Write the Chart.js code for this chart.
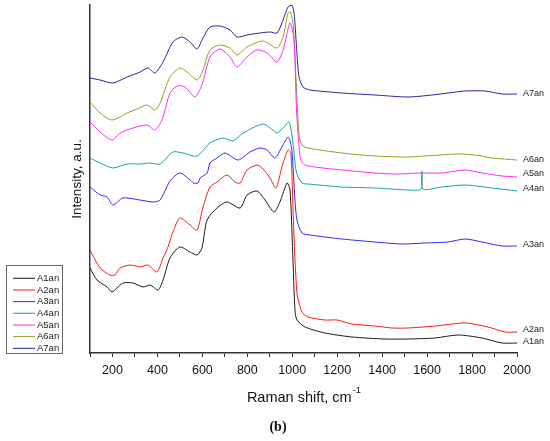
<!DOCTYPE html>
<html>
<head>
<meta charset="utf-8">
<script src="https://cdn.jsdelivr.net/npm/chart.js@4"></script>
<style>
  html,body{margin:0;padding:0;background:#fff;}
  #wrap{position:relative;width:550px;height:441px;}
  canvas{position:absolute;left:0;top:0;}
</style>
</head>
<body>
<div id="wrap"><canvas id="c" width="550" height="441"></canvas></div>
<script>
// ---- data (Raman shift in cm-1, intensity in arbitrary units) ----
const seriesNames = ["A1an","A2an","A3an","A4an","A5an","A6an","A7an"];
const xTicks = [200,400,600,800,1000,1200,1400,1600,1800,2000];

const A1_x = [100,131,176,198,220,247,291,336,367,403,425,456,500,545,576,598,621,665,710,768,799,843,879,919,945,977,990,1002,1012,1021,1057,1146,1266,1413,1515,1635,1738,1844,1933,2000];
const A1_y = [85,73,66,61,65,70,70,66,68,63,73,95,106,101,98,105,133,145,151,145,158,162,153,141,151,170,163,100,43,33,26,20,16,14,14,15,18,15,10,10];

const A2_x = [100,145,189,211,234,278,323,358,398,425,447,469,500,545,576,603,634,665,710,745,768,799,843,870,901,928,954,981,994,1005,1021,1043,1070,1146,1199,1266,1368,1444,1515,1635,1769,1871,1947,2000];
const A2_y = [103,85,78,78,85,88,86,88,81,95,106,121,135,128,123,146,166,171,178,171,170,183,188,184,175,165,186,203,200,133,60,41,36,33,33,29,27,25,25,27,30,26,21,21];

const A3_x = [100,145,176,202,247,323,380,412,456,500,545,560,581,590,621,634,665,701,759,812,856,888,923,954,982,998,1012,1021,1043,1079,1221,1368,1488,1591,1693,1769,1844,1933,2000];
const A3_y = [166,158,156,148,155,153,151,153,172,180,173,170,170,175,180,190,195,200,193,201,205,203,195,206,216,203,153,133,120,118,114,111,109,110,111,114,111,107,107];

const A4_x = [100,145,202,265,323,367,412,469,514,576,634,692,736,781,870,914,932,959,986,1003,1019,1043,1070,1221,1368,1515,1573,1577,1581,1666,1769,1889,2000];
const A4_y = [195,190,185,189,189,190,189,201,200,197,210,215,212,220,229,223,220,225,231,210,180,170,169,166,165,163,164,182,164,166,168,165,162];

const A5_x = [100,145,198,234,291,354,389,420,456,487,523,567,598,634,678,723,754,799,843,888,932,959,990,1008,1019,1034,1045,1070,1221,1368,1457,1577,1666,1769,1844,1933,2000];
const A5_y = [231,221,213,220,225,228,223,233,260,267,266,256,268,296,304,296,286,296,303,300,291,303,330,313,243,198,190,187,183,180,179,180,180,183,180,177,176];

const A6_x = [100,145,198,265,309,354,389,412,456,500,532,576,598,634,678,723,754,799,870,932,959,981,992,1005,1019,1030,1043,1070,1221,1368,1515,1591,1738,1813,1889,2000];
const A6_y = [251,240,233,240,244,248,243,250,276,285,281,273,280,303,308,305,298,306,312,305,316,340,341,326,263,218,208,205,200,197,196,197,199,198,195,193];

const A7_x = [100,145,202,265,323,358,389,425,469,509,545,576,603,634,678,723,754,799,856,901,932,959,981,998,1008,1019,1030,1048,1079,1221,1368,1515,1622,1693,1769,1858,1933,2000];
const A7_y = [275,273,270,276,281,285,280,291,311,316,311,304,315,326,327,323,316,318,320,321,320,333,346,348,340,306,276,266,263,260,258,256,258,260,262,262,259,259];

// ---- styling ----
const colors = ["#1a1a1a","#ff1a1a","#2a2aff","#17a0a0","#ff2aff","#9a9a1e","#25259a"];
const allX = [A1_x,A2_x,A3_x,A4_x,A5_x,A6_x,A7_x];
const allY = [A1_y,A2_y,A3_y,A4_y,A5_y,A6_y,A7_y];
const labelShift = [-1,-2,-1,-2,-3,0,0];
const FONT = "'Liberation Sans', Arial, sans-serif";

function pts(xs, ys){ return xs.map((x,i)=>({x:x, y:ys[i]})); }

const datasets = seriesNames.map((n,i)=>({
  label:n,
  data:pts(allX[i], allY[i]),
  borderColor:colors[i],
  backgroundColor:colors[i],
  borderWidth:1,
  pointRadius:0,
  fill:false,
  tension:0.25
}));

const decor = {
  id:'decor',
  afterDraw(chart){
    const ctx = chart.ctx;
    const ca = chart.chartArea;
    ctx.save();
    // end labels
    ctx.font = "9px " + FONT;
    ctx.fillStyle = "#222";
    ctx.textBaseline = "middle";
    ctx.textAlign = "left";
    chart.data.datasets.forEach((ds,i)=>{
      const meta = chart.getDatasetMeta(i);
      const p = meta.data[meta.data.length-1];
      ctx.fillText(ds.label, ca.right + 6, p.y + labelShift[i]);
    });
    // y title
    ctx.save();
    ctx.translate(77, (ca.top + ca.bottom)/2);
    ctx.rotate(-Math.PI/2);
    ctx.font = "13.5px " + FONT;
    ctx.fillStyle = "#111";
    ctx.textAlign = "center";
    ctx.textBaseline = "middle";
    ctx.fillText("Intensity, a.u.", 0, 0);
    ctx.restore();
    // x title with superscript
    ctx.font = "14.5px " + FONT;
    const main = "Raman shift, cm";
    const w1 = ctx.measureText(main).width;
    ctx.font = "9.5px " + FONT;
    const w2 = ctx.measureText("-1").width;
    const cx = (ca.left + ca.right)/2;
    const sx = cx - (w1 + w2)/2;
    ctx.fillStyle = "#111";
    ctx.textAlign = "left";
    ctx.textBaseline = "middle";
    ctx.font = "14.5px " + FONT;
    ctx.fillText(main, sx, 398);
    ctx.font = "9.5px " + FONT;
    ctx.fillText("-1", sx + w1 + 1, 390);
    // (b)
    ctx.font = "bold 14px 'Liberation Serif', 'DejaVu Serif', serif";
    ctx.textAlign = "center";
    ctx.fillText("(b)", 278, 427);
    // legend
    ctx.fillStyle = "#fff";
    ctx.fillRect(6, 265, 57, 88);
    ctx.strokeStyle = "#666";
    ctx.lineWidth = 1;
    ctx.strokeRect(6.5, 265.5, 56, 88);
    ctx.font = "9.5px " + FONT;
    ctx.textAlign = "left";
    chart.data.datasets.forEach((ds,i)=>{
      const y = 278.3 + i*11.67;
      ctx.strokeStyle = ds.borderColor;
      ctx.beginPath();
      ctx.moveTo(13, y); ctx.lineTo(35, y);
      ctx.stroke();
      ctx.fillStyle = "#222";
      ctx.fillText(ds.label, 37, y);
    });
    ctx.restore();
  }
};

new Chart(document.getElementById('c'), {
  type:'line',
  data:{datasets:datasets},
  options:{
    responsive:false,
    animation:false,
    devicePixelRatio:1,
    layout:{padding:{left:0,right:33,top:5,bottom:0}},
    plugins:{legend:{display:false}, tooltip:{enabled:false}},
    scales:{
      x:{
        type:'linear', min:100, max:2000,
        afterFit(s){ s.height = 88; },
        afterBuildTicks(s){
          const t=[]; for(let v=100; v<=2000; v+=100) t.push({value:v});
          s.ticks = t;
        },
        ticks:{
          autoSkip:false, maxRotation:0, padding:6,
          color:"#111",
          font:{family:FONT, size:12.5},
          callback(v){ return xTicks.includes(v) ? String(v) : ""; }
        },
        grid:{display:true, drawOnChartArea:false, drawTicks:true, tickLength:4, color:"#333", lineWidth:1},
        border:{display:true, color:"#333", width:1.5}
      },
      y:{
        type:'linear', min:0, max:348,
        afterFit(s){ s.width = 90; },
        ticks:{display:false},
        grid:{display:false},
        border:{display:true, color:"#333", width:1.5}
      }
    }
  },
  plugins:[decor]
});
</script>
</body>
</html>
